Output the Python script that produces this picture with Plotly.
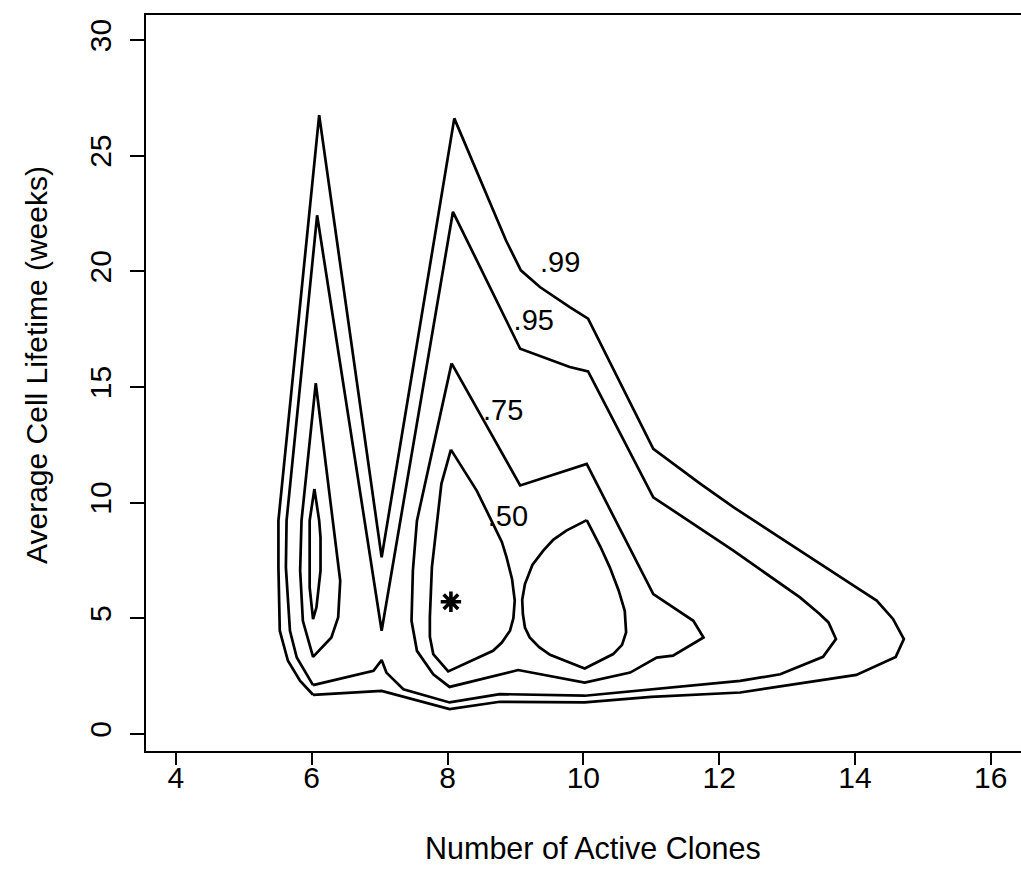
import plotly.graph_objects as go

# Contour levels of the joint density (outer to inner)
levels = [".99", ".95", ".75", ".50"]

# .99 contour (single closed curve)
c99_x = [6.02, 5.83, 5.65, 5.53, 5.51, 5.51, 6.11, 7.03, 8.10, 8.86, 9.08, 9.36, 9.80, 10.07,
         11.03, 11.72, 12.21, 13.14, 14.02, 14.32, 14.56, 14.72, 14.60, 14.02, 12.31, 11.00,
         10.02, 8.77, 8.03, 7.03, 6.02]
c99_y = [1.69, 2.29, 3.16, 4.46, 7.20, 9.22, 26.75, 7.63, 26.61, 21.34, 20.04, 19.32, 18.45, 17.95,
         12.32, 10.82, 9.80, 8.00, 6.33, 5.76, 4.97, 4.10, 3.33, 2.55, 1.79, 1.60,
         1.36, 1.39, 1.07, 1.86, 1.69]

# .95 contour (single closed curve)
c95_x = [6.02, 5.78, 5.68, 5.62, 5.63, 6.08, 7.03, 8.08, 9.07, 9.80, 10.07, 11.03, 12.21, 13.19,
         13.48, 13.61, 13.72, 13.53, 12.90, 12.31, 10.02, 8.77, 8.03, 7.35, 7.10, 7.03, 6.91, 6.02]
c95_y = [2.11, 3.30, 4.46, 7.20, 9.22, 22.42, 4.46, 22.57, 16.65, 15.86, 15.67, 10.23, 7.92, 5.90,
         5.18, 4.82, 4.10, 3.33, 2.58, 2.29, 1.65, 1.72, 1.36, 1.93, 2.65, 3.19, 2.73, 2.11]

# .75 contour: lobe at 6 clones and region from 8 to 12 clones
c75a_x = [6.06, 5.85, 5.83, 5.87, 6.02, 6.29, 6.39, 6.42, 6.06]
c75a_y = [15.16, 9.22, 7.06, 4.89, 3.33, 4.17, 5.04, 6.62, 15.16]
c75b_x = [8.06, 7.55, 7.49, 7.47, 7.55, 7.79, 8.03, 9.04, 10.02, 10.69, 11.08, 11.32, 11.77,
          11.62, 11.03, 10.05, 9.07, 8.06]
c75b_y = [16.02, 9.22, 7.06, 4.89, 3.59, 2.58, 2.03, 2.76, 2.22, 2.65, 3.30, 3.38, 4.17,
          4.89, 6.04, 11.67, 10.74, 16.02]

# .50 contour: three separate loops
c50a_x = [6.04, 5.97, 5.97, 6.00, 6.02, 6.07, 6.13, 6.13, 6.11, 6.04]
c50a_y = [10.59, 9.22, 6.33, 5.32, 4.96, 5.47, 7.06, 8.50, 9.22, 10.59]
c50b_x = [8.05, 8.43, 8.67, 8.80, 8.87, 8.95, 8.99, 8.97, 8.92, 8.80, 8.67, 8.01,
          7.79, 7.74, 7.74, 7.77, 7.91, 8.05]
c50b_y = [12.29, 10.52, 9.08, 8.30, 7.63, 6.70, 5.76, 5.00, 4.46, 3.95, 3.59, 2.70,
          3.45, 4.20, 5.04, 7.20, 10.81, 12.29]
c50c_x = [10.05, 10.25, 10.39, 10.52, 10.61, 10.63, 10.57, 10.44, 10.02, 9.51, 9.35, 9.21,
          9.14, 9.11, 9.10, 9.14, 9.25, 9.41, 9.56, 9.75, 10.05]
c50c_y = [9.24, 8.10, 7.20, 6.20, 5.32, 4.39, 3.85, 3.45, 2.83, 3.42, 3.75, 4.17,
          4.60, 5.18, 5.80, 6.48, 7.30, 7.92, 8.40, 8.79, 9.24]

# Level label anchor points
label_x = [9.66, 9.27, 8.82, 8.89]
label_y = [20.30, 17.79, 13.90, 9.31]

# Observed point
obs_x = [8.05]
obs_y = [5.71]

x_ticks = [4, 6, 8, 10, 12, 14, 16]
y_ticks = [0, 5, 10, 15, 20, 25, 30]

FONT = "Liberation Sans, Arial, Helvetica, sans-serif"

fig = go.Figure()
curves = [(c99_x, c99_y), (c95_x, c95_y), (c75a_x, c75a_y), (c75b_x, c75b_y),
          (c50a_x, c50a_y), (c50b_x, c50b_y), (c50c_x, c50c_y)]
for cx, cy in curves:
    fig.add_trace(go.Scatter(x=cx, y=cy, mode="lines",
                             line=dict(color="black", width=2.7),
                             hoverinfo="skip", showlegend=False))

fig.add_trace(go.Scatter(x=label_x, y=label_y, mode="text", text=levels,
                         textposition="middle center",
                         textfont=dict(family=FONT, size=29, color="black"),
                         hoverinfo="skip", showlegend=False))

fig.add_trace(go.Scatter(x=obs_x, y=obs_y, mode="markers",
                         marker=dict(symbol="asterisk-open", size=17, color="black",
                                     line=dict(color="black", width=3.6)),
                         hoverinfo="skip", showlegend=False))

fig.update_layout(
    width=1021, height=888,
    margin=dict(l=146, r=0, t=15, b=137),
    paper_bgcolor="white", plot_bgcolor="white",
    font=dict(family=FONT, color="black"),
    xaxis=dict(range=[3.56, 16.445], tickvals=x_ticks, ticks="outside", ticklen=12,
               tickwidth=2, tickcolor="black", showline=True, linecolor="black",
               linewidth=2.2, mirror=True, showgrid=False, zeroline=False,
               tickfont=dict(size=30), ticklabelstandoff=-13),
    yaxis=dict(range=[-0.74, 31.08], tickvals=y_ticks, ticks="outside", ticklen=14,
               tickwidth=2, tickcolor="black", showline=True, linecolor="black",
               linewidth=2.2, mirror=False, showgrid=False, zeroline=False,
               tickangle=-90, tickfont=dict(size=30), ticklabelstandoff=7),
    annotations=[
        dict(text="Number of Active Clones", xref="paper", yref="paper", x=0.511, y=0,
             xanchor="center", yanchor="middle", yshift=-97, showarrow=False,
             font=dict(size=30.5)),
        dict(text="Average Cell Lifetime (weeks)", xref="paper", yref="paper", x=0, y=0.5245,
             xanchor="center", yanchor="middle", xshift=-109, textangle=-90,
             showarrow=False, font=dict(size=30)),
    ],
)

fig.write_html("out.html")
